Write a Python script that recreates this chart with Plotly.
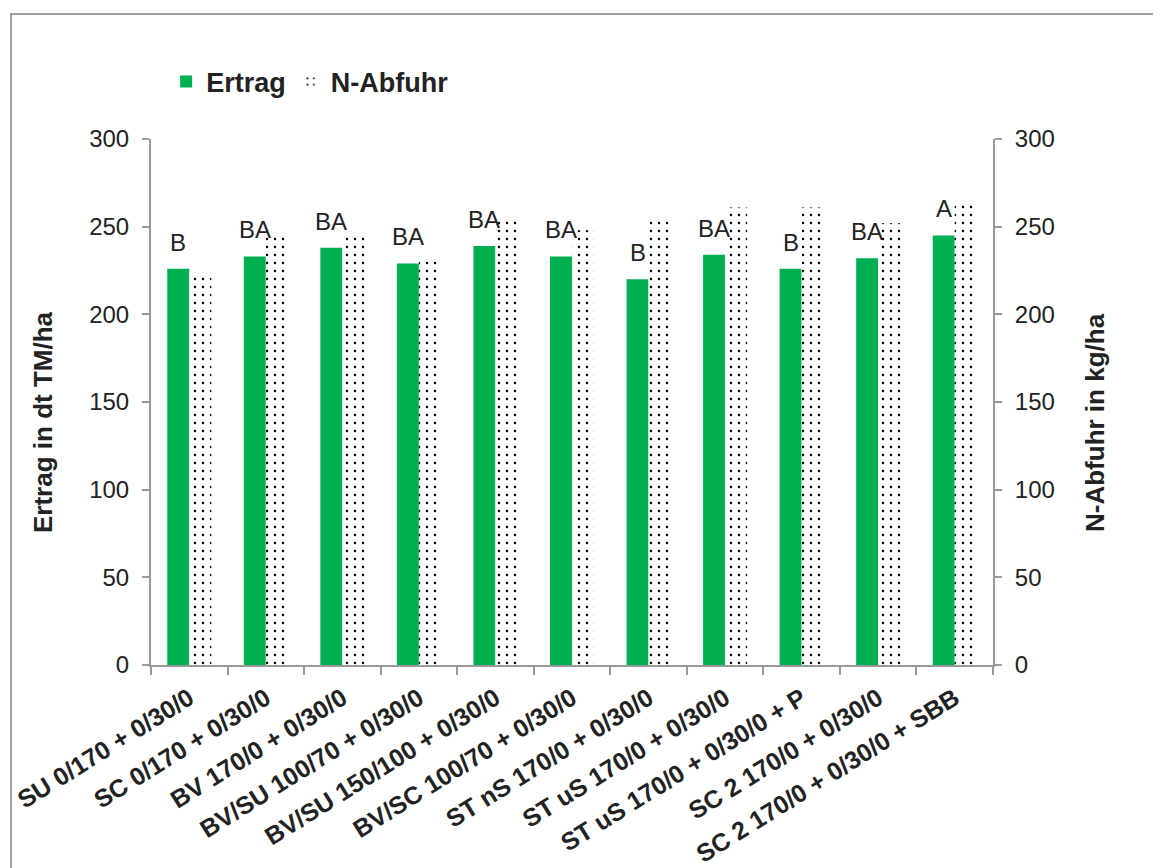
import plotly.graph_objects as go

categories = [
    "SU 0/170 + 0/30/0",
    "SC 0/170 + 0/30/0",
    "BV 170/0 + 0/30/0",
    "BV/SU 100/70 + 0/30/0",
    "BV/SU 150/100 + 0/30/0",
    "BV/SC 100/70 + 0/30/0",
    "ST nS 170/0 + 0/30/0",
    "ST uS 170/0 + 0/30/0",
    "ST uS 170/0 + 0/30/0 + P",
    "SC 2 170/0 + 0/30/0",
    "SC 2 170/0 + 0/30/0 + SBB",
]
ertrag = [226, 233, 238, 229, 239, 233, 220, 234, 226, 232, 245]
n_abfuhr = [224, 246, 244, 230, 254, 248, 253, 261, 261, 252, 264]
letters = ["B", "BA", "BA", "BA", "BA", "BA", "B", "BA", "B", "BA", "A"]
y_ticks = [0, 50, 100, 150, 200, 250, 300]

FONT = "Arial, Liberation Sans, sans-serif"
GREEN = "#00B050"
AXIS_GREY = "#9a9a9a"
TEXT = "#222222"

# the page adds an 8px body margin, so margins are shifted by that
W, H = 1161, 868
ML, MT = 143, 131
PLOT_W, PLOT_H = 842, 526
MR = W - ML - PLOT_W
MB = H - MT - PLOT_H
BARGAP = 0.425

bar_px = PLOT_W / len(categories) * (1 - BARGAP) / 2

fig = go.Figure()

fig.add_trace(
    go.Bar(
        x=categories,
        y=ertrag,
        name="Ertrag",
        marker=dict(color=GREEN, line=dict(width=0)),
        offsetgroup="1",
        yaxis="y",
        hovertemplate="%{x}<br>Ertrag: %{y}<extra></extra>",
    )
)

fig.add_trace(
    go.Bar(
        x=categories,
        y=n_abfuhr,
        name="N-Abfuhr",
        marker=dict(
            color="white",
            line=dict(width=0),
            pattern=dict(
                shape=".",
                fillmode="replace",
                bgcolor="white",
                fgcolor="black",
                size=8,
                solidity=0.08,
            ),
        ),
        offsetgroup="2",
        yaxis="y2",
        hovertemplate="%{x}<br>N-Abfuhr: %{y}<extra></extra>",
    )
)

axis_common = dict(
    range=[0, 300],
    tickvals=y_ticks,
    showgrid=False,
    zeroline=False,
    showline=True,
    linecolor=AXIS_GREY,
    linewidth=2,
    ticks="outside",
    ticklen=7,
    tickwidth=1.5,
    tickcolor=AXIS_GREY,
    tickfont=dict(family=FONT, size=24, color=TEXT),
    ticklabelstandoff=8,
    automargin=False,
)

fig.update_layout(
    width=W,
    height=H,
    autosize=False,
    margin=dict(l=ML, r=MR, t=MT, b=MB, autoexpand=False),
    plot_bgcolor="white",
    paper_bgcolor="white",
    barmode="group",
    bargap=BARGAP,
    bargroupgap=0,
    font=dict(family=FONT, color=TEXT),
    xaxis=dict(
        type="category",
        showline=True,
        linecolor=AXIS_GREY,
        linewidth=2,
        ticks="outside",
        tickson="boundaries",
        ticklen=8,
        tickwidth=1.5,
        tickcolor=AXIS_GREY,
        tickangle=-32,
        ticklabelstandoff=7,
        tickfont=dict(family=FONT, size=25, color=TEXT, weight="bold"),
        automargin=False,
        showgrid=False,
    ),
    yaxis=dict(**axis_common),
    yaxis2=dict(**axis_common, overlaying="y", side="right"),
    legend=dict(
        orientation="h",
        x=0.018,
        y=1.155,
        xanchor="left",
        yanchor="top",
        font=dict(family=FONT, size=27, color=TEXT, weight="bold"),
        bgcolor="rgba(0,0,0,0)",
        itemclick=False,
        traceorder="normal",
    ),
    showlegend=True,
)

# axis titles (Excel places them a bit below the plot centre)
title_font = dict(family=FONT, size=26, color=TEXT, weight="bold")
fig.add_annotation(
    text="Ertrag in dt TM/ha",
    xref="paper", yref="paper",
    x=(43 - 151) / PLOT_W, y=(665 - 422) / PLOT_H,
    textangle=-90, showarrow=False,
    xanchor="center", yanchor="middle",
    font=title_font,
)
fig.add_annotation(
    text="N-Abfuhr in kg/ha",
    xref="paper", yref="paper",
    x=(1095 - 151) / PLOT_W, y=(665 - 423) / PLOT_H,
    textangle=-90, showarrow=False,
    xanchor="center", yanchor="middle",
    font=title_font,
)

# significance letters above each Ertrag bar
for cat, val, lab in zip(categories, ertrag, letters):
    fig.add_annotation(
        x=cat,
        y=val,
        xref="x",
        yref="y",
        text=lab,
        showarrow=False,
        xanchor="center",
        yanchor="bottom",
        xshift=-bar_px / 2,
        yshift=11,
        font=dict(family=FONT, size=24, color=TEXT),
    )

# chart area border (Excel-style frame)
fig.add_shape(
    type="rect",
    xref="paper",
    yref="paper",
    x0=(11 - 151) / PLOT_W,
    x1=1.3,
    y0=-0.5,
    y1=(665 - 14) / PLOT_H,
    line=dict(color="#a0a0a0", width=2),
    fillcolor="rgba(0,0,0,0)",
    layer="below",
)

fig.write_html("out.html")
